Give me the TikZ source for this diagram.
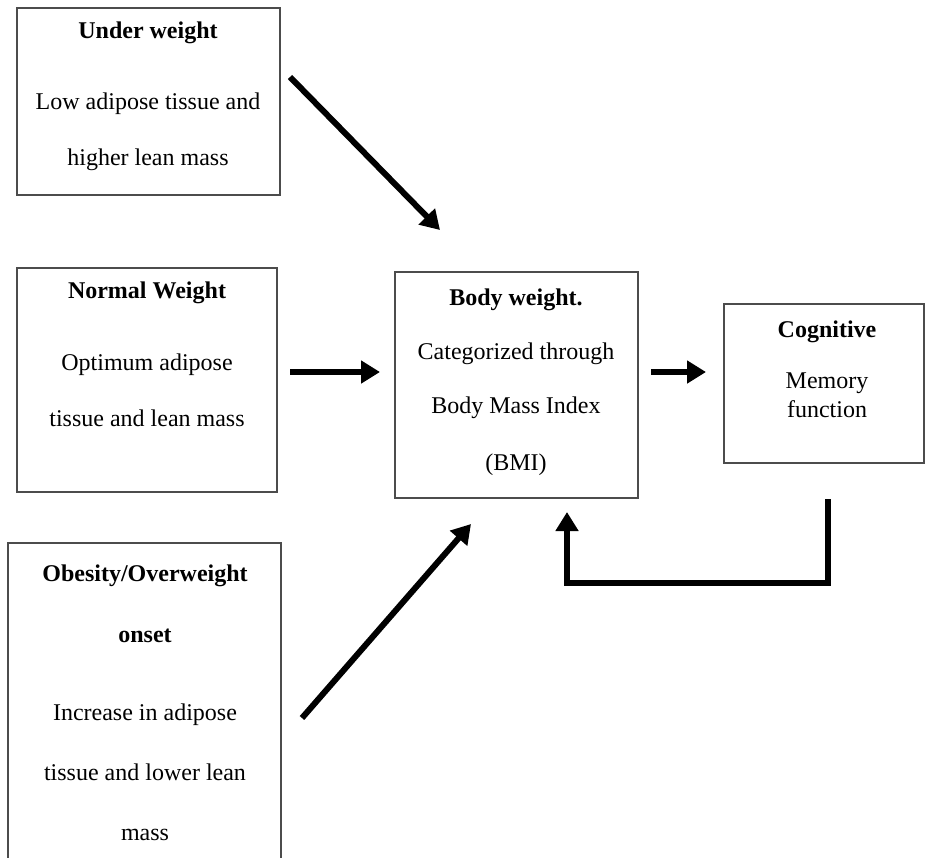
\documentclass[tikz,border=0pt]{standalone}
\usepackage{fontspec}
\setmainfont{Liberation Serif}
\usetikzlibrary{arrows.meta}
\begin{document}
\begin{tikzpicture}[x=1pt,y=-1pt,
  box/.style={draw=black!70,line width=1.3pt,inner sep=0pt},
  txt/.style={align=center,inner sep=0pt,anchor=north,font=\fontsize{24}{29}\selectfont},
  arr/.style={line width=6pt,-{Triangle[length=19pt,width=22pt]}}]
\clip (0,0) rectangle (926,857);
\fill[white] (0,0) rectangle (926,857);
% boxes
\node[box,minimum width=263pt,minimum height=187pt] (uw) at (148.5,101.5) {};
\node[box,minimum width=260pt,minimum height=224pt] (nw) at (147,380) {};
\node[box,minimum width=273pt,minimum height=337pt] (ob) at (144.5,711.5) {};
\node[box,minimum width=243pt,minimum height=226pt] (bw) at (516.5,385) {};
\node[box,minimum width=200pt,minimum height=159pt] (cg) at (824,383.5) {};
% texts
\node[txt] (uwtxt) at (148,21.6) {\textbf{Under weight}\\[42pt]Low adipose tissue and\\[27pt]higher lean mass};
\node[txt] (nwtxt) at (147,281.6) {\textbf{Normal Weight}\\[43pt]Optimum adipose\\[27pt]tissue and lean mass};
\node[txt] (obtxt) at (145,564.6) {\textbf{Obesity/Overweight}\\[32pt]\textbf{onset}\\[49pt]Increase in adipose\\[31pt]tissue and lower lean\\[31pt]mass};
\node[txt] (bwtxt) at (516,288.6) {\textbf{Body weight.}\\[25pt]Categorized through\\[25pt]Body Mass Index\\[28pt](BMI)};
\node[txt] (cgtxt) at (827,320.6) {\textbf{Cognitive}\\[22pt]Memory\\function};
% arrows
\coordinate (s1) at (290,77);  \coordinate (e1) at (440,230);
\coordinate (s2) at (290,372); \coordinate (e2) at (380,372);
\coordinate (s3) at (302,718); \coordinate (e3) at (471,524);
\coordinate (s4) at (651,372); \coordinate (e4) at (706,372);
\foreach \a/\b in {s1/e1,s2/e2,s3/e3,s4/e4}
\draw[arr](\a)--(\b);
% feedback
\coordinate (f1) at (828,499);
\coordinate (f2) at (567,512);
\draw[arr](f1)|-(567,583)--(f2);
\end{tikzpicture}
\end{document}
